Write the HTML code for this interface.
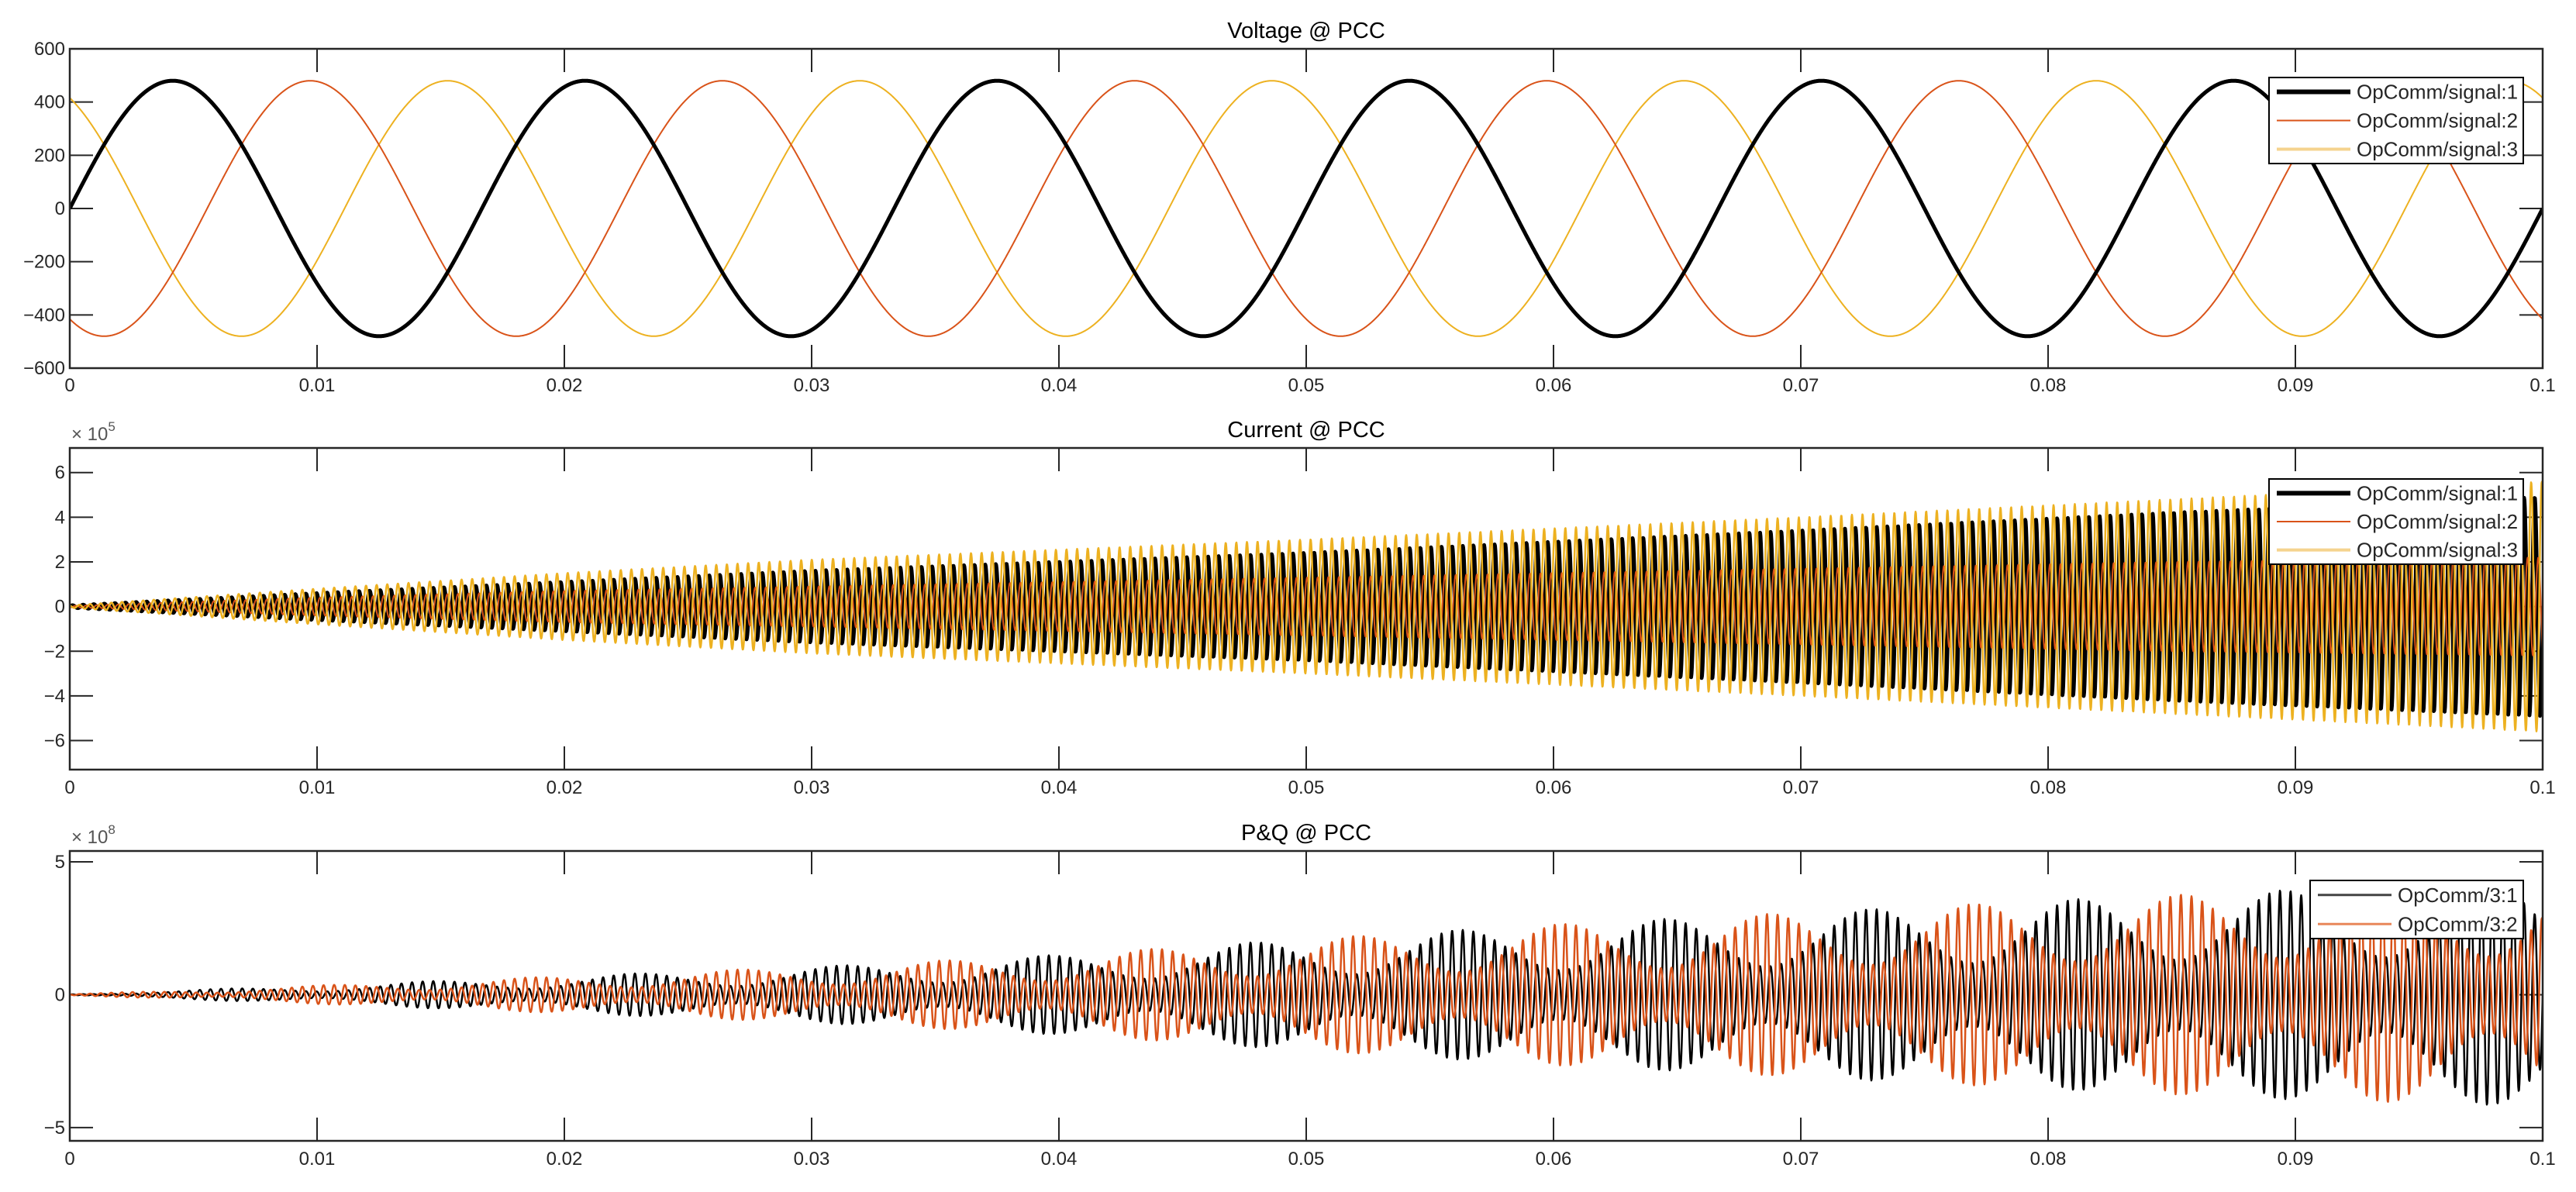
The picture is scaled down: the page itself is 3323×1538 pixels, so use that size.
<!DOCTYPE html>
<html><head><meta charset="utf-8"><style>
html,body{margin:0;padding:0;background:#fff;}
svg{display:block;font-family:"Liberation Sans",Arial,sans-serif;}
</style></head><body>
<svg id="fig" width="3323" height="1538" viewBox="0 0 3323 1538" xmlns="http://www.w3.org/2000/svg"></svg>
<script>
// ---- data ----
const xTicks = [0,0.01,0.02,0.03,0.04,0.05,0.06,0.07,0.08,0.09,0.1];
const xTickLabels = ["0","0.01","0.02","0.03","0.04","0.05","0.06","0.07","0.08","0.09","0.1"];
// Voltage
const vTicks = [-600,-400,-200,0,200,400,600];
const vAmp = [480,480,480];
const vFreq = [60,60,60];
const vPhaseDeg = [0,-120,120];
// Current (x1e5)
const iTicks = [-6,-4,-2,0,2,4,6];
const envT = [0,0.01,0.02,0.03,0.05,0.07,0.085,0.1];
const iEnv1 = [0.05,0.6,1.1,1.6,2.4,3.4,4.2,4.9];
const iEnv2 = [0.03,0.4,0.7,0.9,1.3,1.7,2.0,2.2];
const iEnv3 = [0.05,0.8,1.5,2.1,3.0,4.0,4.8,5.6];
const iFreq = 2330;
const iPhaseDeg = [0,-120,120];
// P&Q (x1e8)
const pTicks = [-5,0,5];
const pEnvT = [0,0.01,0.02,0.03,0.04,0.05,0.06,0.07,0.08,0.09,0.1];
const pEnvPeak = [0.02,0.35,0.7,1.05,1.5,2.1,2.65,3.1,3.55,3.95,4.2];
const pFreq = 2330;
const pBeatFreq = 120;
const pBeatCenter = [0.0478,0.0520];
const pBeatMin = 0.35;

const svg = document.getElementById('fig');
const NS = 'http://www.w3.org/2000/svg';
function el(tag, attrs, parent){const e=document.createElementNS(NS,tag);for(const k in attrs)e.setAttribute(k,attrs[k]);(parent||svg).appendChild(e);return e;}
function interp(ts, vs, t){ if(t<=ts[0])return vs[0]; for(let i=1;i<ts.length;i++){ if(t<=ts[i]){const f=(t-ts[i-1])/(ts[i]-ts[i-1]);return vs[i-1]+f*(vs[i]-vs[i-1]);}} return vs[vs.length-1]; }
const L=90, R=3280;
function xs(t){return L+(t-0)/(0.1-0)*(R-L);}
const AX = '#262626';
const fmt = v => (v<0?'\u2212':'')+Math.abs(v);

function drawAxes(name, top, bot, ymin, ymax, yT, title, expo, xLabY){
  const g = el('g',{});
  
  
  const ys = v => bot - (v-ymin)/(ymax-ymin)*(bot-top);
  // title
  const tt = el('text',{x:(L+R)/2,y:top-14,'text-anchor':'middle','font-size':29,fill:'#000'},g);
  tt.textContent = title;
  
  
  // ticks
  xTicks.forEach((t,i)=>{
    const x=xs(t);
    el('line',{x1:x,y1:bot,x2:x,y2:bot-30,stroke:AX,'stroke-width':2},g);
    el('line',{x1:x,y1:top,x2:x,y2:top+30,stroke:AX,'stroke-width':2},g);
    const lb=el('text',{x:x,y:xLabY,'text-anchor':'middle','font-size':24,fill:AX},g);
    lb.textContent=xTickLabels[i];
    
    
  });
  yT.forEach(v=>{
    const y=ys(v);
    el('line',{x1:L,y1:y,x2:L+30,y2:y,stroke:AX,'stroke-width':2},g);
    el('line',{x1:R,y1:y,x2:R-30,y2:y,stroke:AX,'stroke-width':2},g);
    const lb=el('text',{x:L-6,y:y+8,'text-anchor':'end','font-size':24,fill:AX},g);
    lb.textContent=fmt(v);
    
    
  });
  if(expo){
    const ex=el('text',{x:L+2,y:top-10,'font-size':24,fill:'#555'},g);
    ex.textContent='\u00d7 10';
    
    
    const sp=el('tspan',{dy:-12,'font-size':17},ex); sp.textContent=expo;
  }
  const cid='clip-'+name;
  const cp=el('clipPath',{id:cid},g); el('rect',{x:L,y:top,width:R-L,height:bot-top},cp);
  const plot=el('g',{'clip-path':'url(#'+cid+')'},g);
  
  
  return {g,plot,ys,top,bot};
}
function frame(ax){
  el('rect',{x:L,y:ax.top,width:R-L,height:ax.bot-ax.top,fill:'none',stroke:AX,'stroke-width':2.5},ax.g);
}
function line(ax, fn, color, w, name){
  let d=''; const N=6380;
  for(let i=0;i<=N;i++){const t=0.1*i/N; const x=xs(t), y=ax.ys(fn(t)); d+=(i?'L':'M')+x.toFixed(1)+' '+y.toFixed(1);}
  const p=el('path',{d:d,fill:'none',stroke:color,'stroke-width':w,'stroke-linejoin':'round'},ax.plot);
  
  
}
function legend(ax, x0,y0,x1,y1, entries){
  const lg=el('g',{},ax.g);
  
  
  el('rect',{x:x0,y:y0,width:x1-x0,height:y1-y0,fill:'#fff',stroke:'#000','stroke-width':2},lg);
  const n=entries.length, h=(y1-y0)/n;
  entries.forEach((e,i)=>{
    const y=y0+h*(i+0.5);
    el('line',{x1:x0+10,y1:y,x2:x0+105,y2:y,stroke:e.c,'stroke-width':e.w},lg);
    const t=el('text',{x:x0+113,y:y+9,'font-size':26,fill:'#262626'},lg);
    t.textContent=e.label;
    
    
  });
}
const BLK='#000000', RED='#D95319', YEL='#EDB120';

// Voltage
const a1=drawAxes('voltage-axes',63,475,-600,600,vTicks,'Voltage @ PCC',null,505);
[2,1,0].forEach(k=>{
  line(a1,t=>vAmp[k]*Math.sin(2*Math.PI*vFreq[k]*t+vPhaseDeg[k]*Math.PI/180),[BLK,RED,YEL][k],[5,2,2][k],'voltage-signal-'+(k+1));
});
frame(a1);
legend(a1,2927,100,3255,211,[{label:'OpComm/signal:1',c:BLK,w:6},{label:'OpComm/signal:2',c:RED,w:2},{label:'OpComm/signal:3',c:'#F5D38E',w:4}]);

// Current
const a2=drawAxes('current-axes',578,993,-7.3,7.1,iTicks,'Current @ PCC','5',1024);
const iEnvs=[iEnv1,iEnv2,iEnv3];
line(a2,t=>interp(envT,iEnvs[0],t)*Math.sin(2*Math.PI*iFreq*t+iPhaseDeg[0]*Math.PI/180),BLK,5,'current-signal-1');
line(a2,t=>interp(envT,iEnvs[1],t)*Math.sin(2*Math.PI*iFreq*t+iPhaseDeg[1]*Math.PI/180),RED,2,'current-signal-2');
line(a2,t=>interp(envT,iEnvs[2],t)*Math.sin(2*Math.PI*iFreq*t+iPhaseDeg[2]*Math.PI/180),YEL,2.5,'current-signal-3');
frame(a2);
legend(a2,2927,618,3255,728,[{label:'OpComm/signal:1',c:BLK,w:6},{label:'OpComm/signal:2',c:RED,w:2},{label:'OpComm/signal:3',c:'#F5D38E',w:4}]);

// P&Q
const a3=drawAxes('pq-axes',1098,1472,-5.5,5.41,pTicks,'P&Q @ PCC','8',1503);
function pq(k){return t=>{const beat=pBeatMin+(1-pBeatMin)*0.5*(1+Math.cos(2*Math.PI*pBeatFreq*(t-pBeatCenter[k])));return interp(pEnvT,pEnvPeak,t)*beat*Math.sin(2*Math.PI*pFreq*t+k*2.1);};}
line(a3,pq(0),BLK,2.5,'pq-signal-1');
line(a3,pq(1),RED,2.5,'pq-signal-2');
frame(a3);
legend(a3,2980,1136,3255,1211,[{label:'OpComm/3:1',c:'#444',w:3},{label:'OpComm/3:2',c:'#E8875A',w:3}]);
</script>
</body></html>
